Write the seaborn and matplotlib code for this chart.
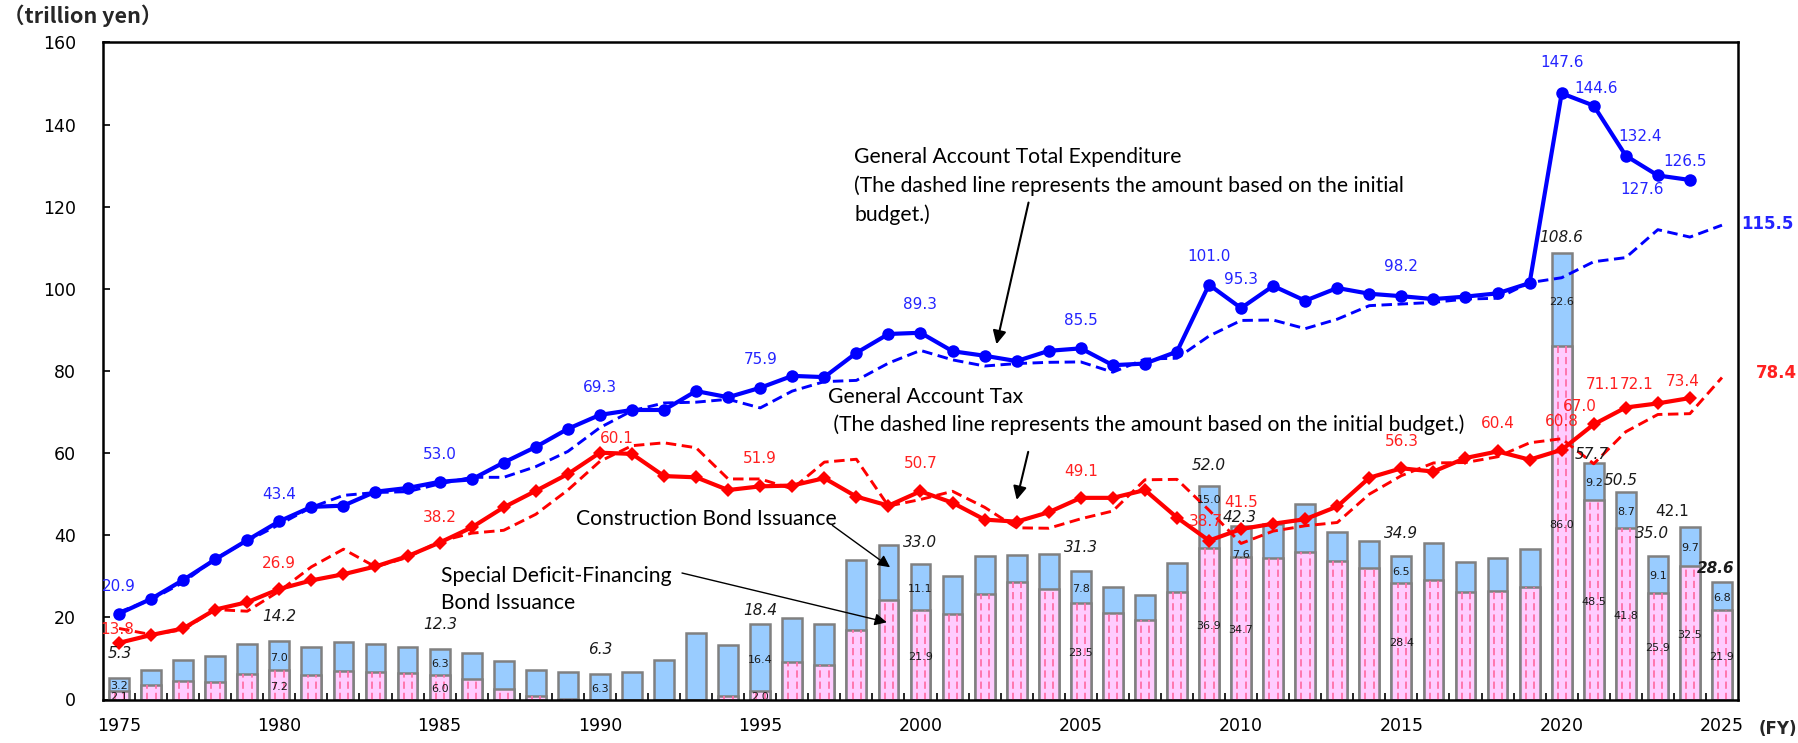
import numpy as np
import pandas as pd
import matplotlib
matplotlib.use("Agg")
import matplotlib.pyplot as plt
import seaborn as sns

# ── data (trillion yen, by fiscal year) ────────────────────────────────────
years = list(range(1975, 2026))

# general account total expenditure (settled, 1975-2024)
expenditure = [
    20.9, 24.5, 29.1, 34.1, 38.8, 43.4, 46.9, 47.2, 50.6, 51.5,
    53.0, 53.6, 57.7, 61.5, 65.9, 69.3, 70.5, 70.5, 75.1, 73.6,
    75.9, 78.8, 78.5, 84.4, 89.0, 89.3, 84.8, 83.7, 82.4, 84.9,
    85.5, 81.4, 81.8, 84.7, 101.0, 95.3, 100.7, 97.1, 100.2, 98.8,
    98.2, 97.5, 98.1, 98.9, 101.4, 147.6, 144.6, 132.4, 127.6, 126.5,
]
# initial budget expenditure (1975-2025)
expenditure_initial = [
    21.3, 24.3, 28.5, 34.3, 38.6, 42.6, 46.8, 49.7, 50.4, 50.6,
    52.5, 54.1, 54.1, 56.7, 60.4, 66.2, 70.3, 72.2, 72.4, 73.1,
    71.0, 75.1, 77.4, 77.7, 81.9, 85.0, 82.7, 81.2, 81.8, 82.1,
    82.2, 79.7, 82.9, 83.1, 88.5, 92.3, 92.4, 90.3, 92.6, 95.9,
    96.3, 96.7, 97.5, 97.7, 101.5, 102.7, 106.6, 107.6, 114.4, 112.6,
    115.5,
]
# general account tax revenue (settled, 1975-2024)
tax = [
    13.8, 15.7, 17.3, 21.9, 23.7, 26.9, 29.0, 30.5, 32.4, 34.9,
    38.2, 41.9, 46.8, 50.8, 54.9, 60.1, 59.8, 54.4, 54.1, 51.0,
    51.9, 52.1, 53.9, 49.4, 47.2, 50.7, 47.9, 43.8, 43.3, 45.6,
    49.1, 49.1, 51.0, 44.3, 38.7, 41.5, 42.8, 43.9, 47.0, 54.0,
    56.3, 55.5, 58.8, 60.4, 58.4, 60.8, 67.0, 71.1, 72.1, 73.4,
]
# initial budget tax revenue (1975-2025)
tax_initial = [
    17.3, 15.8, 17.0, 21.9, 21.5, 26.4, 32.3, 36.6, 32.3, 34.6,
    38.5, 40.5, 41.2, 45.1, 51.0, 58.0, 61.8, 62.5, 61.3, 53.7,
    53.7, 51.3, 57.8, 58.5, 47.1, 48.7, 50.7, 46.8, 41.8, 41.7,
    44.0, 45.9, 53.5, 53.6, 46.1, 38.0, 41.0, 42.3, 43.1, 50.0,
    54.5, 57.6, 57.7, 59.1, 62.5, 63.5, 57.4, 65.2, 69.4, 69.6,
    78.4,
]
# government bond issuance (1975-2025)
bond_total = [
    5.3, 7.2, 9.6, 10.7, 13.5, 14.2, 12.9, 14.0, 13.5, 12.8,
    12.3, 11.3, 9.4, 7.2, 6.6, 6.3, 6.7, 9.5, 16.2, 13.3,
    18.4, 19.9, 18.5, 34.0, 37.5, 33.0, 30.0, 35.0, 35.3, 35.5,
    31.3, 27.5, 25.4, 33.2, 52.0, 42.3, 42.8, 47.5, 40.9, 38.5,
    34.9, 38.0, 33.6, 34.4, 36.6, 108.6, 57.7, 50.5, 35.0, 42.1,
    28.6,
]
bond_construction = [
    3.2, 3.7, 5.0, 6.3, 7.1, 7.0, 7.0, 7.0, 6.8, 6.4,
    6.3, 6.3, 6.9, 6.2, 6.4, 6.3, 6.7, 9.5, 16.2, 12.5,
    16.4, 10.7, 9.9, 17.0, 13.2, 11.1, 9.1, 9.1, 6.7, 8.7,
    7.8, 6.4, 6.0, 7.1, 15.0, 7.6, 8.4, 11.5, 7.1, 6.6,
    6.5, 8.9, 7.4, 8.1, 9.2, 22.6, 9.2, 8.7, 9.1, 9.7,
    6.8,
]
bond_deficit = [
    2.1, 3.5, 4.5, 4.3, 6.3, 7.2, 5.9, 7.0, 6.7, 6.4,
    6.0, 5.0, 2.5, 0.9, 0.2, 0.0, 0.0, 0.0, 0.0, 0.8,
    2.0, 9.2, 8.5, 17.0, 24.3, 21.9, 20.9, 25.8, 28.7, 26.8,
    23.5, 21.1, 19.4, 26.1, 36.9, 34.7, 34.4, 36.0, 33.8, 31.9,
    28.4, 29.1, 26.2, 26.3, 27.4, 86.0, 48.5, 41.8, 25.9, 32.5,
    21.9,
]

# ── label placement (pixel offsets from the data point) ─────────────────────
exp_label_offsets = {1975: (0, 27), 1980: (0, 27), 1985: (0, 27), 1990: (0, 27.5),
                     1995: (0, 28), 2000: (0, 28.5), 2005: (0, 28), 2009: (0, 28),
                     2010: (0, 29), 2015: (0, 29.5), 2020: (0, 30.5), 2021: (2, 17),
                     2022: (14, 19), 2023: (-16, -14.5), 2024: (-5, 18)}
tax_label_offsets = {1975: (-2, 13), 1980: (0, 26), 1985: (0, 25), 1990: (17, 14),
                     1995: (0, 28), 2000: (0, 27.5), 2005: (0, 26.5), 2009: (-3, 19),
                     2010: (0, 27), 2015: (0, 27), 2018: (0, 28), 2020: (0, 28),
                     2021: (-13.5, 18), 2022: (-23, 23), 2023: (-21.5, 18.5),
                     2024: (-7.5, 17)}
total_label_offsets = {1975: (1, 24), 1980: (0, 25), 1985: (1, 24), 1990: (0, 24),
                       1995: (0, 13), 2000: (0, 21.5), 2005: (0, 23), 2009: (0, 20.5),
                       2010: (-1, 8.5), 2015: (0, 23), 2020: (0, 15.5), 2021: (-2, 8),
                       2022: (-5, 12), 2023: (-6, 22), 2024: (-18, 15), 2025: (-6, 14)}
split_label_years = [1975, 1980, 1985, 1990, 1995, 2000, 2005, 2009, 2010, 2015,
                     2020, 2021, 2022, 2023, 2024, 2025]
construction_shift = {2009: 19, 2010: -11.5}

BLUE, RED = "#0000FF", "#FF0000"
BLUE_TXT, RED_TXT = "#2424FF", "#FF2020"

# ── figure ──────────────────────────────────────────────────────────────────
sns.set_theme(style="white")
plt.rcParams["font.family"] = ["DejaVu Sans", "Noto Sans CJK JP"]

fig = plt.figure(figsize=(17.98, 7.43), dpi=100)
ax = fig.add_axes([103 / 1798, 1 - 699.5 / 743, (1738 - 103) / 1798, (699.5 - 42.4) / 743])

bars = pd.DataFrame({"year": years, "total": bond_total, "deficit": bond_deficit})
sns.barplot(data=bars, x="year", y="total", native_scale=True, width=0.62,
            color="#99CCFF", saturation=1, edgecolor="#808080", linewidth=1.8,
            errorbar=None, ax=ax, zorder=2)
sns.barplot(data=bars, x="year", y="deficit", native_scale=True, width=0.62,
            color="#FFCCFF", saturation=1, edgecolor="#808080", linewidth=1.8,
            errorbar=None, ax=ax, zorder=2)
yr = np.array(years, dtype=float)
for off in (-0.12, 0.14):
    ax.vlines(yr + off, 0, bars["deficit"], colors="#FF6FA8",
              linestyles=(0, (4, 2.2)), lw=1.3, zorder=2.5)

# lines
sns.lineplot(x=years, y=expenditure_initial, color=BLUE, lw=2.1,
             linestyle=(0, (3.6, 1.9)), errorbar=None, ax=ax, zorder=4)
sns.lineplot(x=years, y=tax_initial, color=RED, lw=2.1,
             linestyle=(0, (3.6, 1.9)), errorbar=None, ax=ax, zorder=4)
sns.lineplot(x=years[:len(expenditure)], y=expenditure, color=BLUE, lw=3,
             marker="o", markersize=9, markeredgewidth=0, errorbar=None, ax=ax, zorder=5)
sns.lineplot(x=years[:len(tax)], y=tax, color=RED, lw=3,
             marker="D", markersize=7.5, markeredgewidth=0, errorbar=None, ax=ax, zorder=5)


def put(x, y, text, dx, dy, **kw):
    ax.annotate(text, (x, y), xytext=(dx, dy), textcoords="offset pixels",
                ha="center", va="center", annotation_clip=False, zorder=6, **kw)


for y_, (dx, dy) in exp_label_offsets.items():
    put(y_, expenditure[years.index(y_)], f"{expenditure[years.index(y_)]:.1f}",
        dx, dy, color=BLUE_TXT, fontsize=11)
for y_, (dx, dy) in tax_label_offsets.items():
    put(y_, tax[years.index(y_)], f"{tax[years.index(y_)]:.1f}",
        dx, dy, color=RED_TXT, fontsize=11)
for y_, (dx, dy) in total_label_offsets.items():
    v = bond_total[years.index(y_)]
    style = dict(fontstyle="italic")
    if y_ == 2024:
        style = dict(fontstyle="normal")
    if y_ == 2025:
        style = dict(fontstyle="italic", fontweight="bold")
    put(y_, v, f"{v:.1f}", dx, dy, color="#1a1a1a", fontsize=11, **style)

for y_ in split_label_years:
    i = years.index(y_)
    d, t, c = bond_deficit[i], bond_total[i], bond_construction[i]
    put(y_, (d + t) / 2, f"{c:.1f}", 0, -2 + construction_shift.get(y_, 0),
        color="#1a1a1a", fontsize=8)
    if d > 0:
        put(y_, d / 2, f"{d:.1f}", 0, -2, color="#1a1a1a", fontsize=8)

# 2025 initial-budget values, outside the frame
put(2025, expenditure_initial[-1], f"{expenditure_initial[-1]:.1f}", 45, 1.5,
    color=BLUE_TXT, fontsize=12, fontweight="bold")
put(2025, tax_initial[-1], f"{tax_initial[-1]:.1f}", 54, 4.5,
    color=RED_TXT, fontsize=12, fontweight="bold")

# notes and arrows
note_kw = dict(fontfamily="Lato", fontsize=15.2, color="black", ha="left",
               va="center", zorder=6)
ax.text(1997.93, 125.1, "General Account Total Expenditure\n"
        "(The dashed line represents the amount based on the initial\nbudget.)",
        linespacing=1.52, **note_kw)
ax.text(1997.12, 70.3, "General Account Tax\n"
        " (The dashed line represents the amount based on the initial budget.)",
        linespacing=1.45, **note_kw)
ax.text(1989.24, 44.0, "Construction Bond Issuance", **note_kw)
ax.text(1985.03, 26.8, "Special Deficit-Financing\nBond Issuance",
        linespacing=1.4, **note_kw)

thick = dict(arrowstyle="-|>", color="black", lw=1.5, mutation_scale=20, shrinkA=0, shrinkB=0)
thin = dict(arrowstyle="-|>", color="black", lw=1.0, mutation_scale=18, shrinkA=0, shrinkB=0)
ax.annotate("", xy=(2002.37, 86.5), xytext=(2003.37, 121), arrowprops=thick, zorder=6)
ax.annotate("", xy=(2003.0, 48.6), xytext=(2003.36, 60.3), arrowprops=thick, zorder=6)
ax.annotate("", xy=(1999.05, 32.2), xytext=(1997.25, 42.4), arrowprops=thin, zorder=6)
ax.annotate("", xy=(1998.95, 18.8), xytext=(1992.56, 30.8), arrowprops=thin, zorder=6)

# axes styling
ax.set_xlim(1974.5, 2025.5)
ax.set_ylim(0, 160)
ax.set_yticks(range(0, 161, 20))
ax.set_xticks(range(1975, 2026, 5))
ax.set_xticks(np.arange(1975.5, 2025, 1), minor=True)
ax.tick_params(axis="x", which="major", bottom=True, length=0, pad=12.5,
               labelsize=12.5, labelcolor="black")
ax.tick_params(axis="x", which="minor", bottom=True, direction="in", length=5,
               width=1.2, color="black")
ax.tick_params(axis="y", left=True, direction="in", length=5, width=1.2,
               color="black", pad=19.5, labelsize=12.5, labelcolor="black")
ax.set_xlabel("")
ax.set_ylabel("")
for s in ax.spines.values():
    s.set_visible(True)
    s.set_color("black")
    s.set_linewidth(1.8)

fig.text(3 / 1798, 1 - 16 / 743, "（trillion yen）", ha="left", va="center",
         fontsize=15.5, fontweight="bold", family=["Noto Sans CJK JP", "DejaVu Sans"])
fig.text(1778 / 1798, 1 - 729 / 743, "(FY)", ha="center", va="center",
         fontsize=12, fontweight="bold")

fig.savefig("out.png", dpi=100)
plt.close(fig)
